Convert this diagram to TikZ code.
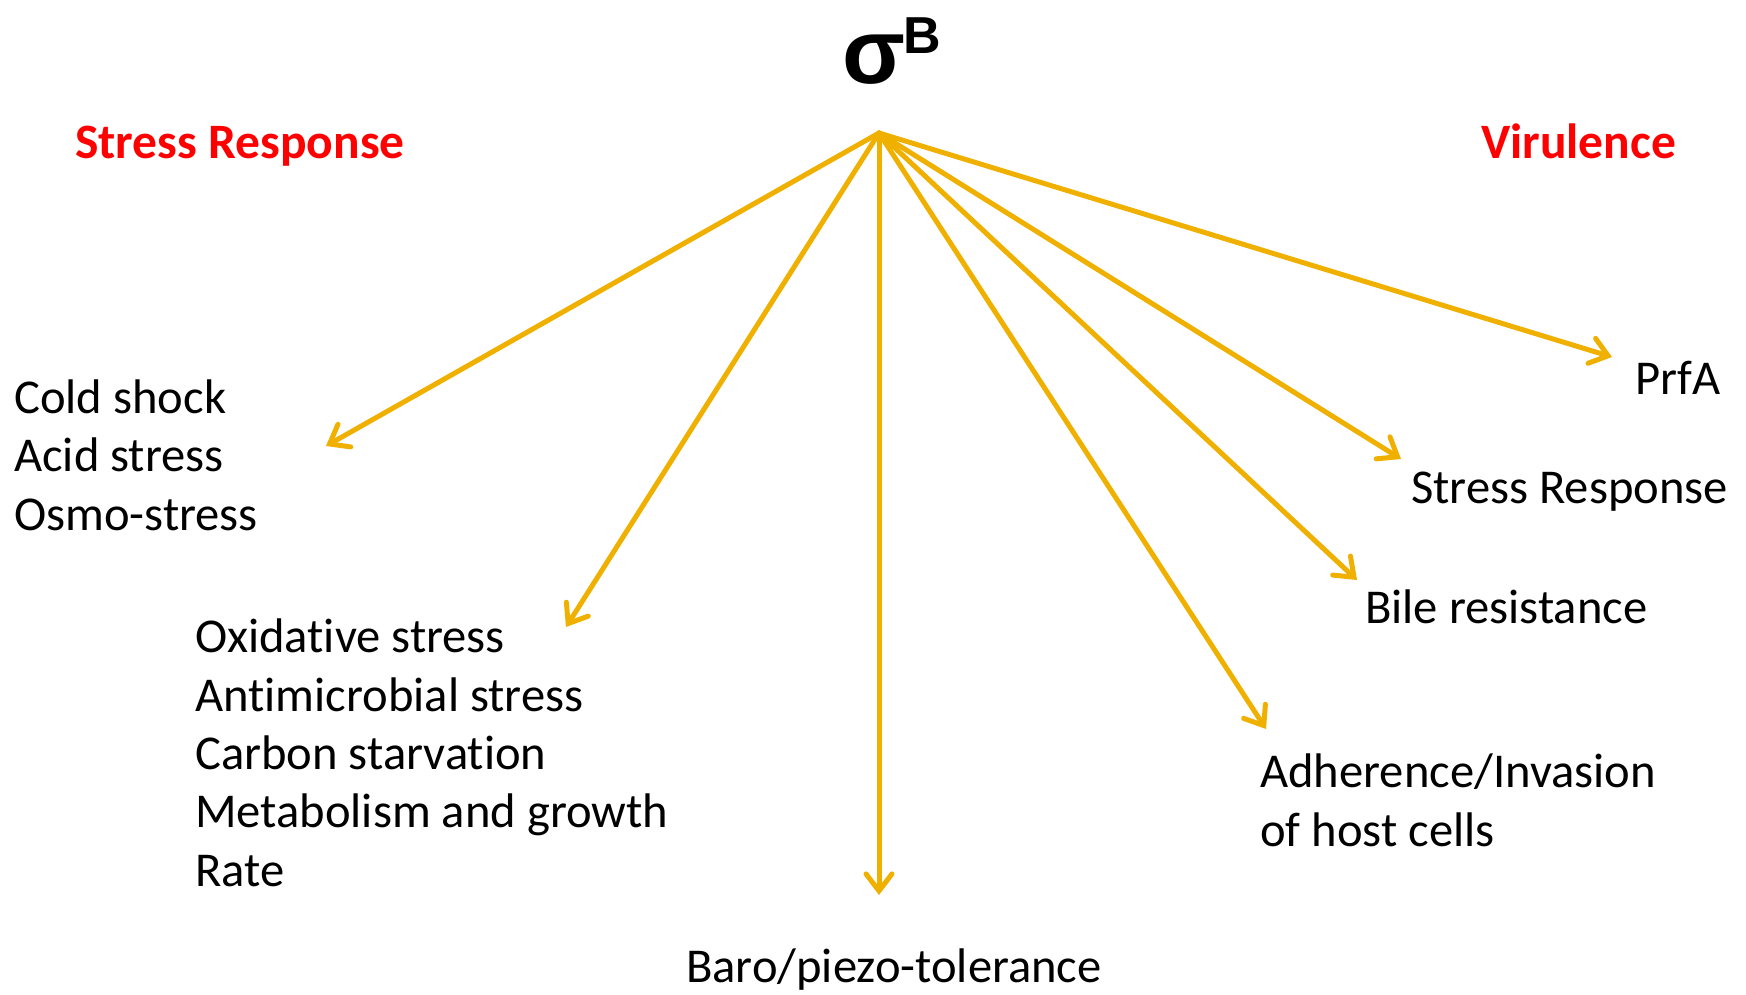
\documentclass[tikz,border=0pt]{standalone}
\usepackage{fontspec}
\setmainfont{Carlito}[Ligatures=NoCommon]
\newfontfamily\arialfont{Liberation Sans}
\usetikzlibrary{arrows.meta}
\definecolor{gold}{RGB}{240,176,0}
\definecolor{redlab}{RGB}{255,0,0}
\tikzset{
  conn/.style={draw=gold, line width=5pt, line cap=round, line join=round,
    -{Straight Barb[length=17pt,width=26pt,line cap=round]}},
  lab/.style={anchor=base west, inner sep=0pt, align=left,
    font=\fontsize{48.6}{58.3}\selectfont},
  head/.style={lab, text=redlab, font=\bfseries\fontsize{49.5}{58.5}\selectfont},
}
\begin{document}
\begin{tikzpicture}[x=1pt,y=-1pt]
\useasboundingbox (0,0) rectangle (1746,994);
% title
\node[anchor=base west, inner sep=0pt] (sigma) at (842,83)
  {\arialfont\bfseries\fontsize{92}{92}\selectfont σ\kern-2pt\raisebox{30pt}{\fontsize{52}{52}\selectfont B}};
% headings
\node[head] (hstress) at (75,158) {Stress Response};
\node[head] (hvir) at (1481,158) {Virulence};
% labels (base anchor = last line's baseline)
\node[lab] (g1) at (14,530) {Cold shock\\Acid stress\\Osmo-stress};
\node[lab] (g2) at (195,886) {Oxidative stress\\Antimicrobial stress\\Carbon starvation\\Metabolism and growth\\Rate};
\node[lab] (g3) at (686,982) {Baro/piezo-tolerance};
\node[lab] (r1) at (1260,846) {Adherence/Invasion\\of host cells};
\node[lab] (r2) at (1365,623) {Bile resistance};
\node[lab] (r3) at (1411,503) {Stress Response};
\node[lab] (r4) at (1635,394) {PrfA};
% connector ends
\coordinate (hub) at (879,133);
\coordinate (e1) at (326,446);
\coordinate (e2) at (566,627);
\coordinate (e3) at (879,895);
\coordinate (e4) at (1266,729);
\coordinate (e5) at (1357,580);
\coordinate (e6) at (1401,459);
\coordinate (e7) at (1612,357);
\foreach \e in {e1,e2,e3,e4,e5,e6,e7}
  \draw[conn] (hub) -- (\e);
\end{tikzpicture}
\end{document}
